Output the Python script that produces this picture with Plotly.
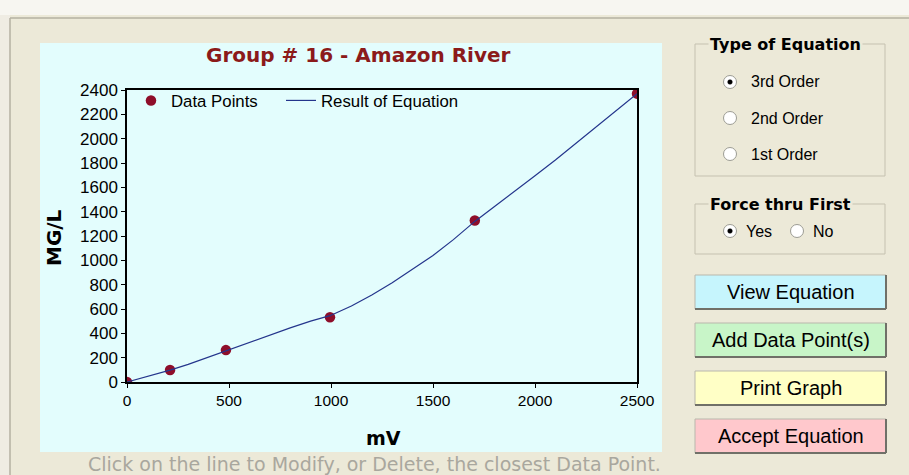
import plotly.graph_objects as go

# ---------------- data ----------------
data_mv = [0, 211, 485, 995, 1705, 2500]
data_mgl = [0, 98, 262, 532, 1327, 2370]

curve_mv = [0, 100, 211, 300, 400, 485, 600, 700, 800, 900, 995, 1100, 1200, 1300,
            1400, 1500, 1600, 1705, 1800, 1900, 2000, 2100, 2200, 2300, 2400, 2500]
curve_mgl = [0, 46, 98, 145, 205, 260, 325, 385, 445, 500, 545, 625, 715, 815,
             925, 1040, 1170, 1320, 1440, 1565, 1695, 1825, 1960, 2095, 2230, 2370]

x_ticks = [0, 500, 1000, 1500, 2000, 2500]
y_ticks = [0, 200, 400, 600, 800, 1000, 1200, 1400, 1600, 1800, 2000, 2200, 2400]

title_text = "Group # 16 - Amazon River"
x_title = "mV"
y_title = "MG/L"
eq_options = ["3rd Order", "2nd Order", "1st Order"]
force_options = ["Yes", "No"]
buttons = ["View Equation", "Add Data Point(s)", "Print Graph", "Accept Equation"]
button_colors = ["#C6F5FD", "#C8F5C8", "#FFFFC6", "#FFC8CC"]
footer = "Click on the line to Modify, or Delete, the closest Data Point."

# ---------------- geometry helpers ----------------
W, H = 909, 475
L, R, T, B = 127, 637, 90, 382


def px(x):
    return (x - L) / (R - L)


def py(y):
    return (B - y) / (B - T)


PANEL = "#ECE9D8"
CYAN = "#E3FDFD"
ARIAL = "Arial, Liberation Sans, sans-serif"
VERD = "DejaVu Sans, Verdana, sans-serif"

fig = go.Figure()

fig.add_trace(go.Scatter(
    x=data_mv, y=data_mgl, mode="markers", name="Data Points",
    marker=dict(color="#8E0E2A", size=10.5, line=dict(width=0)),
    legend="legend",
))
fig.add_trace(go.Scatter(
    x=curve_mv, y=curve_mgl, mode="lines", name="Result of Equation",
    line=dict(color="#24358C", width=1.2),
    legend="legend2",
))

shapes = []


def rect(x0, y0, x1, y1, fill=None, line="rgba(0,0,0,0)", lw=0, layer="below"):
    shapes.append(dict(type="rect", xref="paper", yref="paper",
                       x0=px(x0), x1=px(x1), y0=py(y1), y1=py(y0),
                       fillcolor=fill if fill else "rgba(0,0,0,0)",
                       line=dict(color=line, width=lw), layer=layer))


def seg(x0, y0, x1, y1, color, lw=1, layer="above"):
    shapes.append(dict(type="line", xref="paper", yref="paper",
                       x0=px(x0), x1=px(x1), y0=py(y0), y1=py(y1),
                       line=dict(color=color, width=lw), layer=layer))


def circ(cx, cy, r, fill, line, lw=1):
    shapes.append(dict(type="circle", xref="paper", yref="paper",
                       x0=px(cx - r), x1=px(cx + r), y0=py(cy + r), y1=py(cy - r),
                       fillcolor=fill, line=dict(color=line, width=lw), layer="above"))


# window frame
rect(0, 0, W, 15, fill="#F7F6F1")
rect(0, 15, 10, H, fill="#EFECE3")
seg(10, 18, W, 18, "#B5B1A2", 1.5, "below")
seg(10, 18, 10, H, "#B5B1A2", 1.5, "below")
# chart background
rect(40, 43, 662, 452, fill=CYAN)

annotations = []


def text(x, y, s, size, color="#000000", family=ARIAL, xanchor="left",
         bold=False, bg=None, angle=0):
    if bold:
        s = "<b>" + s + "</b>"
    a = dict(xref="paper", yref="paper", x=px(x), y=py(y), text=s,
             showarrow=False, xanchor=xanchor, yanchor="middle",
             font=dict(size=size, color=color, family=family), textangle=angle)
    if bg:
        a["bgcolor"] = bg
        a["borderpad"] = 1
    annotations.append(a)


# title and axis titles
text(358, 55, title_text, 20, color="#8B1A1A", family=VERD, xanchor="center", bold=True)
text(383, 438, x_title, 19, family=VERD, xanchor="center", bold=True)
text(54, 238, y_title, 20, family=VERD, xanchor="center", bold=True, angle=-90)

# footer
text(86, 464, footer, 19, color="#A9A79E", family=VERD)

# group box: Type of Equation
rect(695, 44, 885, 176, line="#C5C1B0", lw=1, layer="above")
text(708, 45, "Type of Equation", 16, family=VERD, bold=True, bg=PANEL)
for i, opt in enumerate(eq_options):
    cy = 82 + 36 * i
    circ(730, cy, 6.5, "#FFFFFF", "#9C9C94", 1)
    if i == 0:
        circ(730, cy, 2.3, "#000000", "#000000", 0.5)
    text(749, cy, opt, 16, family=ARIAL)

# group box: Force thru First
rect(695, 204, 885, 254, line="#C5C1B0", lw=1, layer="above")
text(708, 204, "Force thru First", 16, family=VERD, bold=True, bg=PANEL)
for i, opt in enumerate(force_options):
    cx = 730 + 67 * i
    circ(cx, 231, 6.5, "#FFFFFF", "#9C9C94", 1)
    if i == 0:
        circ(cx, 231, 2.3, "#000000", "#000000", 0.5)
    text(cx + 14, 231, opt, 16, family=ARIAL)

# buttons
for i, (lab, col) in enumerate(zip(buttons, button_colors)):
    y0 = 275 + 48 * i
    y1 = y0 + 34
    rect(695, y0, 886, y1, fill=col, line="#B9B7AC", lw=1, layer="above")
    seg(695, y1, 886, y1, "#707068", 2)
    seg(886, y0, 886, y1, "#707068", 2)
    text(790.5, (y0 + y1) / 2, lab, 20, family=ARIAL, xanchor="center")

axis_common = dict(showline=True, linecolor="#000000", linewidth=1.5, mirror=True,
                   ticks="outside", ticklen=4, tickwidth=1.2, tickcolor="#000000",
                   showgrid=False, zeroline=False)

legend_common = dict(orientation="h", xanchor="left", yanchor="top",
                     bgcolor="rgba(0,0,0,0)", borderwidth=0,
                     font=dict(family=ARIAL, size=16.8, color="#000000"))

fig.update_layout(
    width=W, height=H,
    margin=dict(l=L, r=W - R, t=T, b=H - B, pad=0),
    paper_bgcolor=PANEL, plot_bgcolor=CYAN,
    xaxis=dict(range=[0, 2500], tickvals=x_ticks,
               tickfont=dict(family=ARIAL, size=15.5, color="#000000"), **axis_common),
    yaxis=dict(range=[0, 2400], tickvals=y_ticks,
               tickfont=dict(family=ARIAL, size=17, color="#000000"), **axis_common),
    showlegend=True,
    legend=dict(x=px(131), y=py(83), **legend_common),
    legend2=dict(x=px(281), y=py(83), **legend_common),
    shapes=shapes,
    annotations=annotations,
)

fig.write_html(
    "out.html",
    config={"displayModeBar": False},
    post_script="document.body.style.margin='0';document.body.style.overflow='hidden';",
)
